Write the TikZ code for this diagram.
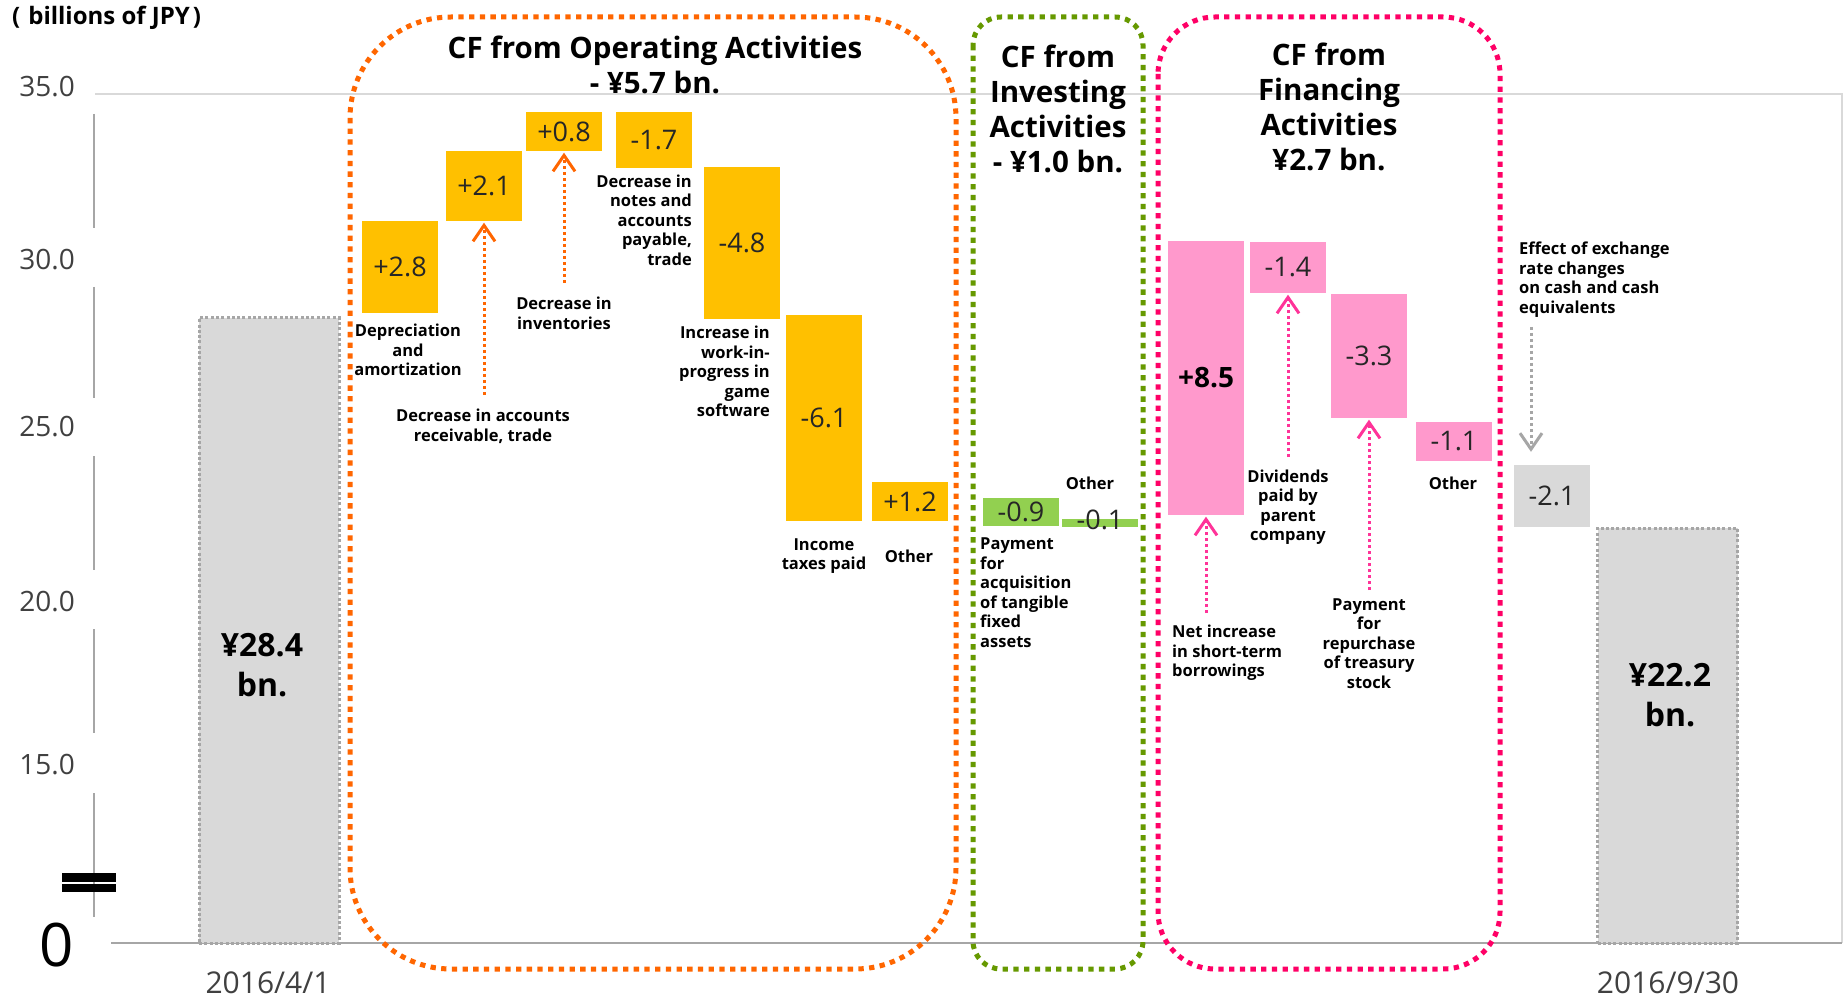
\documentclass[tikz,border=0pt]{standalone}
\usepackage{fontspec}
\setmainfont{Open Sans}
\usetikzlibrary{arrows.meta}
\definecolor{cOrange}{HTML}{FFC000}
\definecolor{cOrangeLine}{HTML}{FF6600}
\definecolor{cGreen}{HTML}{92D050}
\definecolor{cGreenLine}{HTML}{669900}
\definecolor{cPink}{HTML}{FF99CC}
\definecolor{cPinkLine}{HTML}{FF0066}
\definecolor{cPinkArrow}{HTML}{FF3399}
\definecolor{cGray}{HTML}{D9D9D9}
\definecolor{cGrayLine}{HTML}{A6A6A6}
\definecolor{cNum}{HTML}{262626}
\definecolor{cAxis}{HTML}{404040}

\begin{document}
\begin{tikzpicture}[x=1pt, y=-1pt,
  bar/.style={inner sep=0pt, minimum width=76pt, text=cNum, font=\fontsize{27}{30}\selectfont},
  obar/.style={bar, fill=cOrange},
  gbar/.style={bar, fill=cGreen},
  pbar/.style={bar, fill=cPink},
  cbar/.style={bar, fill=cGray},
  total/.style={inner sep=0pt, minimum width=140pt, fill=cGray, draw=cGrayLine, line width=3pt, dash pattern=on 3pt off 2.3pt},
  totlab/.style={inner sep=0pt, align=center, font=\bfseries\fontsize{32}{40}\selectfont},
  frame/.style={line width=5pt, dash pattern=on 5.3pt off 5.4pt},
  ttl/.style={inner sep=0pt, align=center, font=\bfseries\fontsize{29.5}{35}\selectfont},
  lab/.style={inner sep=0pt, align=center, font=\bfseries\fontsize{16.5}{19.5}\selectfont},
  num/.style={inner sep=0pt, text=cNum, font=\fontsize{27}{30}\selectfont},
  ylab/.style={inner sep=0pt, anchor=east, text=cAxis, font=\fontsize{28}{30}\selectfont},
  xlab/.style={inner sep=0pt, text=cAxis, font=\fontsize{30}{33}\selectfont},
  arr/.style={line width=3pt, dash pattern=on 3pt off 3pt, shorten >=1.5pt, -{Straight Barb[length=16pt, width=22pt]}},
]
\useasboundingbox (0,0) rectangle (1848,1000);
\fill[white] (0,0) rectangle (1848,1000);

\draw[cGray, line width=2pt] (95,94) -- (1842,94) -- (1842,943);
\draw[cGrayLine, line width=2.5pt] (111,943) -- (1842,943);
\draw[cGrayLine, line width=2pt] (94,114) -- (94,228) (94,287) -- (94,398) (94,456) -- (94,570) (94,629) -- (94,733) (94,793) -- (94,917);
\fill (62,873) rectangle (116,882);
\fill (62,884) rectangle (116,892);

\node[inner sep=0pt, anchor=west, font=\bfseries\fontsize{24}{26}\selectfont] (u1) at (12,18) {(\hspace{8pt}billions of JPY\hspace{3pt})};
\node[ylab] (y1) at (75,87) {35.0};
\node[ylab] (y2) at (75,260) {30.0};
\node[ylab] (y3) at (75,427) {25.0};
\node[ylab] (y4) at (75,602) {20.0};
\node[ylab] (y5) at (75,765) {15.0};
\node[inner sep=0pt, font=\fontsize{60}{60}\selectfont] (y0) at (57,945) {0};
\node[xlab] (x1) at (268,983) {2016/4/1};
\node[xlab] (x2) at (1668,983) {2016/9/30};

\draw[frame, cOrangeLine, rounded corners=101pt] (350,17) rectangle (956,969);
\draw[frame, cGreenLine, rounded corners=28pt] (973,17) rectangle (1143,969);
\draw[frame, cPinkLine, rounded corners=57pt] (1158,17) rectangle (1500,969);

\node[ttl] (h1) at (655,64.5) {CF from Operating Activities\\- ¥5.7 bn.};
\node[ttl] (h2) at (1058,109) {CF from\\Investing\\Activities\\- ¥1.0 bn.};
\node[ttl] (h3) at (1329,107) {CF from\\Financing\\Activities\\¥2.7 bn.};

\node[total, minimum height=625pt] (s1) at (269,630.5) {};
\node[totlab] (s1t) at (262,665) {¥28.4\\bn.};
\node[obar, minimum height=92pt] (b1) at (400,267) {+2.8};
\node[obar, minimum height=70pt] (b2) at (484,186) {+2.1};
\node[obar, minimum height=39pt] (b3) at (564,131.5) {+0.8};
\node[obar, minimum height=56pt] (b4) at (654,140) {-1.7};
\node[obar, minimum height=152pt] (b5) at (742,243) {-4.8};
\node[obar, minimum height=206pt] (b6) at (824,418) {-6.1};
\node[obar, minimum height=39pt] (b7) at (910,501.5) {+1.2};
\node[gbar, minimum height=28pt] (b8) at (1021,512) {-0.9};
\node[gbar, minimum height=8pt] (b9) at (1100,523) {};
\node[num] (t9) at (1100,520) {-0.1};
\node[pbar, minimum height=274pt, text=black, font=\bfseries\fontsize{28}{30}\selectfont] (b10) at (1206,378) {+8.5};
\node[pbar, minimum height=51pt] (b11) at (1288,267.5) {-1.4};
\node[pbar, minimum height=124pt] (b12) at (1369,356) {-3.3};
\node[pbar, minimum height=39pt] (b13) at (1454,441.5) {-1.1};
\node[cbar, minimum height=62pt] (b14) at (1552,496) {-2.1};
\node[total, minimum height=415pt] (s2) at (1667.5,735.5) {};
\node[totlab] (s2t) at (1670,695) {¥22.2\\bn.};

\coordinate (p1) at (484,395);
\coordinate (p2) at (564,283);
\coordinate (p3) at (1206,613);
\coordinate (p4) at (1288,457);
\coordinate (p5) at (1369,590);
\coordinate (p6) at (1531,327);
\draw[arr, cOrangeLine] (p1) -- (b2.south);
\draw[arr, cOrangeLine] (p2) -- (b3.south);
\draw[arr, cPinkArrow] (p3) -- (b10.south);
\draw[arr, cPinkArrow] (p4) -- (b11.south);
\draw[arr, cPinkArrow] (p5) -- (b12.south);
\draw[arr, cGrayLine, shorten >=13pt] (p6) -- (p6 |- b14.north);

\node[lab] (l1) at (408,350) {Depreciation\\and\\amortization};
\node[lab] (l2) at (483,426.5) {Decrease in accounts\\receivable, trade};
\node[lab] (l3) at (564,313.5) {Decrease in\\inventories};
\node[lab, anchor=east, align=right] (l4) at (692,220) {Decrease in\\notes and\\accounts\\payable,\\trade};
\node[lab, anchor=east, align=right] (l5) at (770,371.5) {Increase in\\work-in-\\progress in\\game\\software};
\node[lab] (l6) at (824,556) {Income\\taxes paid};
\node[lab] (l7) at (909,556) {Other};
\node[lab] (l8) at (1090,483) {Other};
\node[lab, anchor=west, align=left] (l9) at (980,592.5) {Payment\\for\\acquisition\\of tangible\\fixed\\assets};
\node[lab] (l10) at (1288,507) {Dividends\\paid by\\parent\\company};
\node[lab, anchor=west, align=left] (l11) at (1172,653) {Net increase\\in short-term\\borrowings};
\node[lab] (l12) at (1369,643.5) {Payment\\for\\repurchase\\of treasury\\stock};
\node[lab] (l13) at (1453,483) {Other};
\node[lab, anchor=west, align=left] (l14) at (1519,279.5) {Effect of exchange\\rate changes\\on cash and cash\\equivalents};
\end{tikzpicture}
\end{document}
